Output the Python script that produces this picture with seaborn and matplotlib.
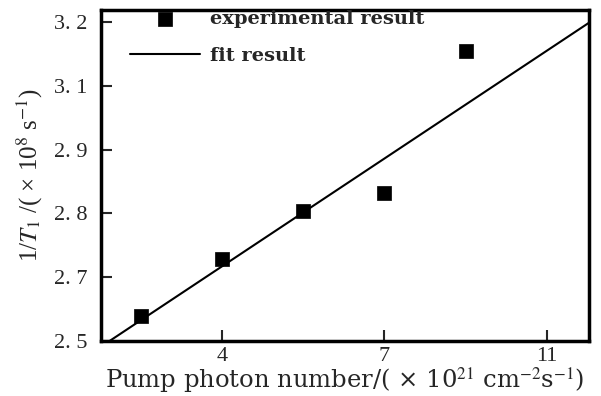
import matplotlib
matplotlib.use("Agg")
import matplotlib.pyplot as plt
import seaborn as sns
import pandas as pd
from matplotlib.ticker import FixedLocator, FixedFormatter

# measured points (x in pump photon units, y in axis position units)
pump = [2.5, 4.0, 5.5, 7.0, 8.5]
inv_t1 = [2.539, 2.628, 2.703, 2.732, 2.954]

# fit line end points
fit_x = [1.92, 10.8]
fit_y = [2.50, 3.00]

# tick positions and their printed labels (as printed in the original)
xtick_pos = [4, 7, 10]
xtick_lab = ["4", "7", "11"]
ytick_pos = [2.5, 2.6, 2.7, 2.8, 2.9, 3.0]
ytick_lab = ["2. 5", "2. 7", "2. 8", "2. 9", "3. 1", "3. 2"]

df_exp = pd.DataFrame({"x": pump, "y": inv_t1})
df_fit = pd.DataFrame({"x": fit_x, "y": fit_y})

sns.set_style("ticks")
plt.rcParams["font.family"] = ["Liberation Serif", "DejaVu Serif"]
plt.rcParams["mathtext.fontset"] = "stix"

fig = plt.figure(figsize=(6.01, 3.96), dpi=100)
ax = fig.add_axes([0.168, 0.139, 0.812, 0.836])

sns.lineplot(data=df_fit, x="x", y="y", ax=ax, color="black", lw=1.5,
             label="fit result")
sns.scatterplot(data=df_exp, x="x", y="y", ax=ax, marker="s", s=110,
                color="black", edgecolor="black", linewidth=0.5,
                label="experimental result", zorder=3)

ax.set_xlim(1.76, 10.78)
ax.set_ylim(2.5, 3.019)
ax.xaxis.set_major_locator(FixedLocator(xtick_pos))
ax.xaxis.set_major_formatter(FixedFormatter(xtick_lab))
ax.yaxis.set_major_locator(FixedLocator(ytick_pos))
ax.yaxis.set_major_formatter(FixedFormatter(ytick_lab))
ax.tick_params(direction="in", length=8, width=1.5, labelsize=16,
               labelfontfamily="Liberation Serif")
ax.tick_params(axis="x", pad=4)
ax.tick_params(axis="y", pad=10)

for sp in ax.spines.values():
    sp.set_linewidth(2.5)
    sp.set_color("black")

ax.set_xlabel("Pump photon number/( × 10$^{21}$ cm$^{-2}$s$^{-1}$)",
              fontsize=17.5, labelpad=0, family="DejaVu Serif")
ax.set_ylabel("1/$T_1$ /( × 10$^{8}$ s$^{-1}$)", fontsize=18, labelpad=6)

h, l = ax.get_legend_handles_labels()
leg = ax.legend(h[::-1], l[::-1], loc="upper left", bbox_to_anchor=(0.04, 1.03),
                frameon=False, handlelength=3.6, handletextpad=0.5,
                labelspacing=1.0, borderpad=0,
                prop={"family": "DejaVu Serif", "weight": "bold", "size": 14})

fig.savefig("out.png", dpi=100)
